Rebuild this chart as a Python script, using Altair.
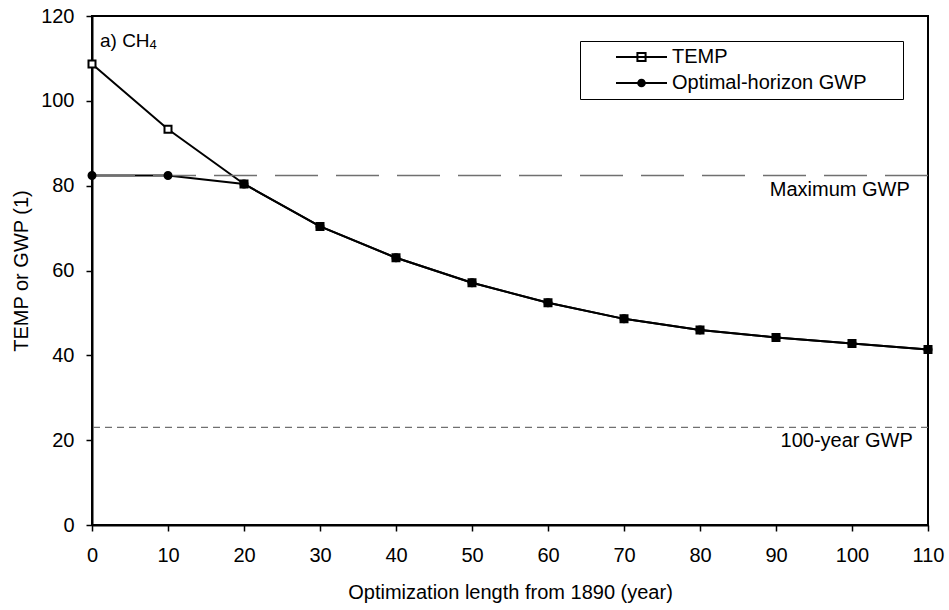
import altair as alt
import pandas as pd

# ---- data ----
years = [0, 10, 20, 30, 40, 50, 60, 70, 80, 90, 100, 110]
temp = [108.7, 93.3, 80.4, 70.4, 63.0, 57.1, 52.4, 48.6, 46.0, 44.2, 42.8, 41.4]
gwp_opt = [82.4, 82.4, 80.4, 70.4, 63.0, 57.1, 52.4, 48.6, 46.0, 44.2, 42.8, 41.4]
series_names = ["TEMP", "Optimal-horizon GWP"]
max_gwp = [82.4]
gwp_100 = [23.0]
x_ticks = [0, 10, 20, 30, 40, 50, 60, 70, 80, 90, 100, 110]
y_ticks = [0, 20, 40, 60, 80, 100, 120]

rows = []
for yr, v in zip(years, temp):
    rows.append({"year": yr, "value": v, "series": series_names[0]})
for yr, v in zip(years, gwp_opt):
    rows.append({"year": yr, "value": v, "series": series_names[1]})
df = pd.DataFrame(rows)

FONT = "Liberation Sans"

xscale = alt.Scale(domain=[0, 110], nice=False, zero=False)
yscale = alt.Scale(domain=[0, 120], nice=False)

x_enc = alt.X("year:Q", scale=xscale,
              axis=alt.Axis(values=x_ticks, title="Optimization length from 1890 (year)",
                            labelPadding=14, labelFlush=False, titleX=418, titleY=73,
                            titleAlign="center", titleBaseline="alphabetic"))
y_enc = alt.Y("value:Q", scale=yscale,
              axis=alt.Axis(values=y_ticks, title="TEMP or GWP (1)", labelPadding=12,
                            labelFlush=False, titleX=-71, titleY=254.5, titleAngle=-90,
                            titleAlign="center", titleBaseline="middle"))

lines = alt.Chart(df).mark_line(color="black", strokeWidth=2).encode(
    x=x_enc, y=y_enc, detail="series:N"
)

sq_path = "M-0.7,-0.7H0.7V0.7H-0.7Z"
ci_path = "M0.7,0A0.7,0.7,0,1,1,-0.7,0A0.7,0.7,0,1,1,0.7,0Z"
leg_sq = "M-1,0H1M-0.16,-0.16H0.16V0.16H-0.16Z"
leg_ci = "M-1,0H1M0.13,0A0.13,0.13,0,1,1,-0.13,0A0.13,0.13,0,1,1,0.13,0Z"

temp_pts = alt.Chart(df).transform_filter(alt.datum.series == series_names[0]).mark_point(
    shape=sq_path, size=100, fill="white", stroke="black", strokeWidth=2, opacity=1, filled=False
).encode(x="year:Q", y="value:Q")
gwp_pts = alt.Chart(df).transform_filter(alt.datum.series == series_names[1]).mark_point(
    shape=ci_path, size=100, filled=True, fill="black", stroke="black", strokeWidth=2, opacity=1
).encode(x="year:Q", y="value:Q")

legend = alt.Legend(
    orient="none", legendX=488, legendY=25, title=None,
    strokeColor="black", fillColor="white", padding=6,
    symbolSize=2601, symbolStrokeWidth=2, symbolStrokeColor="black", symbolOpacity=1,
    clipHeight=20, rowPadding=6,
    labelFont=FONT, labelFontSize=20, labelColor="black", labelLimit=400,
    labelOffset=4, symbolOffset=29,
    labelExpr="datum.label + '\u2800\u2800'",
)

legend_layer = alt.Chart(df).transform_filter("false").mark_point(
    size=2601, strokeWidth=2, opacity=1
).encode(
    x="year:Q", y="value:Q",
    shape=alt.Shape("series:N", scale=alt.Scale(domain=series_names, range=[leg_sq, leg_ci]),
                    legend=legend, sort=series_names),
    fill=alt.Fill("series:N", scale=alt.Scale(domain=series_names, range=["white", "black"]),
                  legend=legend, sort=series_names),
    stroke=alt.Stroke("series:N", scale=alt.Scale(domain=series_names, range=["black", "black"]),
                      legend=legend, sort=series_names),
)

max_rule = alt.Chart(pd.DataFrame({"value": max_gwp})).mark_rule(
    color="#707070", strokeWidth=1.3, strokeDash=[43, 18]
).encode(y="value:Q")
rule100 = alt.Chart(pd.DataFrame({"value": gwp_100})).mark_rule(
    color="#707070", strokeWidth=1.3, strokeDash=[7, 5]
).encode(y="value:Q")

ann_big = pd.DataFrame({"year": [1.05], "value": [112.7], "t": ["a) CH"]})
ann_sub = pd.DataFrame({"year": [7.55], "value": [112.2], "t": ["4"]})
ann_right = pd.DataFrame({
    "year": [107.6, 108.0],
    "value": [77.5, 18.3],
    "t": ["Maximum GWP", "100-year GWP"],
})

t1 = alt.Chart(ann_big).mark_text(font=FONT, fontSize=19, align="left", baseline="alphabetic",
                                  color="black").encode(x="year:Q", y="value:Q", text="t:N")
t2 = alt.Chart(ann_sub).mark_text(font=FONT, fontSize=13, align="left", baseline="alphabetic",
                                  color="black").encode(x="year:Q", y="value:Q", text="t:N")
t3 = alt.Chart(ann_right).mark_text(font=FONT, fontSize=20, align="right", baseline="alphabetic",
                                    color="black").encode(x="year:Q", y="value:Q", text="t:N")

chart = alt.layer(lines, max_rule, rule100, temp_pts, gwp_pts, legend_layer, t1, t2, t3).properties(
    width=836, height=509,
    autosize=alt.AutoSizeParams(type="none"),
    padding={"left": 92, "top": 16, "right": 21, "bottom": 85},
    background="white",
).configure_view(stroke="black", strokeWidth=2).configure_axis(
    labelFont=FONT, labelFontSize=20, labelColor="black",
    titleFont=FONT, titleFontSize=20, titleColor="black", titleFontWeight="normal",
    tickColor="black", tickSize=6, tickWidth=1.5,
    domainColor="black", domainWidth=2, grid=False,
)

chart.save("out.html", embed_options={"renderer": "svg", "actions": False})
